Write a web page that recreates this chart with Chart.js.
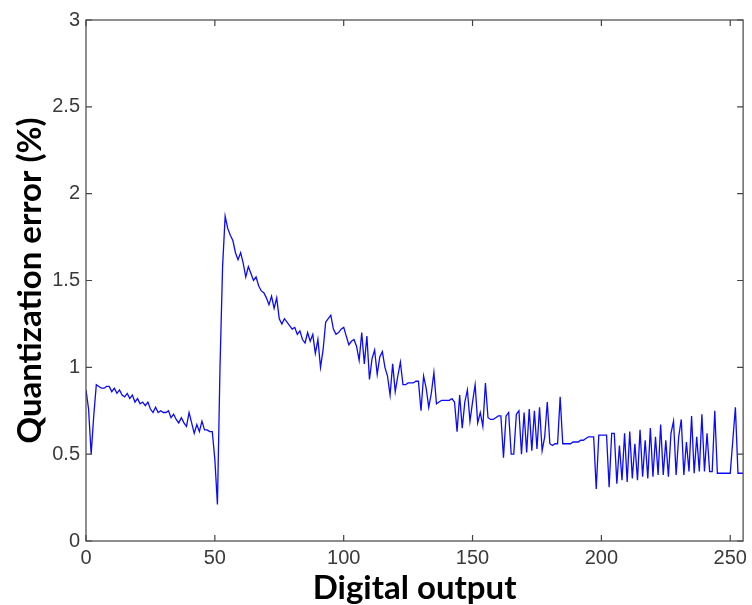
<!DOCTYPE html>
<html>
<head>
<meta charset="utf-8">
<script src="https://cdn.jsdelivr.net/npm/chart.js@4"></script>
<style>
  body { margin: 0; background: #fff; }
</style>
</head>
<body>
<canvas id="my-chart" width="752" height="605"></canvas>
<script>
'use strict';

// ******** DATA **************
// quantization error (%) for each digital output code 0..255
let errorPct = [
  0.87, 0.76, 0.50, 0.72, 0.90, 0.89, 0.88, 0.88, 0.89, 0.89,
  0.86, 0.88, 0.85, 0.87, 0.84, 0.83, 0.85, 0.82, 0.84, 0.80,
  0.82, 0.79, 0.80, 0.78, 0.80, 0.76, 0.74, 0.77, 0.74, 0.75,
  0.74, 0.74, 0.75, 0.71, 0.73, 0.70, 0.68, 0.71, 0.68, 0.66,
  0.74, 0.68, 0.62, 0.67, 0.63, 0.69, 0.64, 0.64, 0.63, 0.63,
  0.47, 0.21, 1.00, 1.58, 1.87, 1.80, 1.76, 1.73, 1.66, 1.62,
  1.66, 1.60, 1.52, 1.58, 1.54, 1.50, 1.52, 1.47, 1.44, 1.43,
  1.40, 1.36, 1.41, 1.34, 1.40, 1.28, 1.25, 1.28, 1.26, 1.24,
  1.22, 1.23, 1.19, 1.21, 1.16, 1.14, 1.20, 1.15, 1.19, 1.08,
  1.16, 1.00, 1.10, 1.26, 1.28, 1.30, 1.22, 1.19, 1.20, 1.22,
  1.23, 1.18, 1.13, 1.15, 1.16, 1.12, 1.04, 1.20, 1.02, 1.18,
  0.93, 1.05, 1.10, 0.96, 1.06, 1.09, 1.00, 0.95, 0.84, 1.02,
  0.86, 0.95, 1.03, 0.90, 0.90, 0.91, 0.91, 0.91, 0.92, 0.92,
  0.75, 0.95, 0.88, 0.77, 0.85, 0.97, 0.79, 0.80, 0.81, 0.81,
  0.81, 0.81, 0.82, 0.80, 0.63, 0.84, 0.65, 0.80, 0.87, 0.69,
  0.80, 0.90, 0.68, 0.74, 0.66, 0.91, 0.71, 0.70, 0.70, 0.71,
  0.72, 0.72, 0.48, 0.72, 0.74, 0.50, 0.50, 0.73, 0.75, 0.50,
  0.74, 0.51, 0.76, 0.52, 0.75, 0.53, 0.77, 0.52, 0.60, 0.80,
  0.56, 0.55, 0.56, 0.56, 0.83, 0.56, 0.56, 0.56, 0.56, 0.57,
  0.57, 0.57, 0.58, 0.58, 0.59, 0.60, 0.60, 0.60, 0.30, 0.61,
  0.61, 0.61, 0.61, 0.31, 0.62, 0.62, 0.33, 0.55, 0.35, 0.62,
  0.34, 0.63, 0.36, 0.56, 0.35, 0.64, 0.37, 0.58, 0.36, 0.65,
  0.37, 0.60, 0.38, 0.67, 0.38, 0.58, 0.37, 0.62, 0.69, 0.38,
  0.60, 0.70, 0.38, 0.57, 0.40, 0.72, 0.39, 0.60, 0.40, 0.73,
  0.40, 0.62, 0.40, 0.40, 0.75, 0.39, 0.39, 0.39, 0.39, 0.39,
  0.39, 0.58, 0.77, 0.39, 0.39, 0.39
];

// output codes are just the index of each value
let outputCodes = errorPct.map((v, i) => i);

let xTicks = [0, 50, 100, 150, 200, 250];
let yTicks = [0, 0.5, 1, 1.5, 2, 2.5, 3];

let tickFont = { family: "'Liberation Sans Narrow', 'Liberation Sans', sans-serif", size: 20 };
let titleFont = { family: 'Lato', size: 33, weight: 'bold', lineHeight: 1 };

// ********* CHART *************
let canvasElem = document.getElementById('my-chart');

// matlab style box with ticks pointing inward
let boxPlugin = {
  id: 'box',
  afterDatasetsDraw(chart) {
    let ctx = chart.ctx;
    let a = chart.chartArea;
    let xs = chart.scales.x;
    let ys = chart.scales.y;
    ctx.save();
    ctx.strokeStyle = '#444';
    ctx.lineWidth = 1.2;
    ctx.strokeRect(a.left, a.top, a.right - a.left, a.bottom - a.top);
    ctx.beginPath();
    xs.ticks.forEach(t => {
      let px = xs.getPixelForValue(t.value);
      ctx.moveTo(px, a.bottom); ctx.lineTo(px, a.bottom - 6);
      ctx.moveTo(px, a.top); ctx.lineTo(px, a.top + 6);
    });
    ys.ticks.forEach(t => {
      let py = ys.getPixelForValue(t.value);
      ctx.moveTo(a.left, py); ctx.lineTo(a.left + 6, py);
      ctx.moveTo(a.right, py); ctx.lineTo(a.right - 6, py);
    });
    ctx.stroke();
    ctx.restore();
  }
};

let myObj = {
  type: 'line',
  data: {
    datasets: [{
      data: outputCodes.map((x, i) => ({ x: x, y: errorPct[i] })),
      borderColor: '#0a0aff',
      borderWidth: 1.3,
      pointRadius: 0,
      tension: 0,
      fill: false
    }]
  },
  options: {
    responsive: false,
    animation: false,
    devicePixelRatio: 1,
    layout: { padding: { top: 20, right: 4, left: 0, bottom: 0 } },
    plugins: {
      legend: { display: false },
      tooltip: { enabled: false }
    },
    scales: {
      x: {
        type: 'linear',
        min: 0,
        max: 255,
        afterBuildTicks: axis => { axis.ticks = xTicks.map(v => ({ value: v })); },
        afterFit: axis => { axis.height = 64; },
        grid: { display: false, drawTicks: false },
        border: { display: false },
        ticks: {
          padding: 5,
          maxRotation: 0,
          color: '#3a3a3a',
          font: tickFont,
          callback: v => String(v)
        },
        title: {
          display: true,
          text: 'Digital output',
          color: '#000',
          padding: { top: 0, bottom: 0 },
          font: titleFont
        }
      },
      y: {
        min: 0,
        max: 3,
        afterBuildTicks: axis => { axis.ticks = yTicks.map(v => ({ value: v })); },
        afterFit: axis => { axis.width = 86; },
        grid: { display: false, drawTicks: false },
        border: { display: false },
        ticks: {
          padding: 6,
          color: '#3a3a3a',
          font: tickFont,
          callback: v => String(v)
        },
        title: {
          display: true,
          text: 'Quantization error (%)',
          color: '#000',
          padding: { top: 14, bottom: 0 },
          font: titleFont
        }
      }
    }
  },
  plugins: [boxPlugin]
};

new Chart(canvasElem, myObj);
</script>
</body>
</html>
